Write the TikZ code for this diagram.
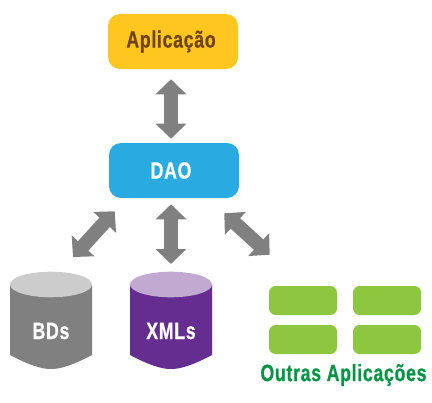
\documentclass[tikz,border=0pt]{standalone}
\usepackage{fontspec}
\setmainfont{Liberation Sans}[BoldFont=Liberation Sans Bold]
\newfontfamily\narrowfont{Liberation Sans Bold}[FakeStretch=.75,LetterSpace=3,FakeBold=.6]
\usepackage{tikz}
\usetikzlibrary{arrows.meta,calc,positioning}
\definecolor{appyellow}{RGB}{255,198,32}
\definecolor{appbrown}{RGB}{112,68,22}
\definecolor{daoblue}{RGB}{41,171,226}
\definecolor{flowgray}{RGB}{128,128,128}
\definecolor{bdstop}{RGB}{204,204,204}
\definecolor{xmlpurple}{RGB}{102,45,145}
\definecolor{xmltop}{RGB}{194,169,210}
\definecolor{otherlime}{RGB}{141,198,63}
\definecolor{othergreen}{RGB}{0,148,68}
\tikzset{
 layerbox/.style={rounded corners=9pt,minimum width=97.5pt,minimum height=41.25pt,inner sep=0pt},
 otherbox/.style={fill=otherlime,rounded corners=5pt,minimum width=51pt,minimum height=21.75pt,inner sep=0pt},
 storebox/.style={minimum width=61.5pt,minimum height=73.5pt,inner sep=0pt,outer sep=0pt},
 boxtext/.style={font=\narrowfont\fontsize{17.7}{20}\selectfont},
 flow/.style={draw=flowgray,line width=10.5pt,{Triangle[length=11.25pt,width=22.5pt]}-{Triangle[length=11.25pt,width=22.5pt]}}
}
\begin{document}
\begin{tikzpicture}[x=.75pt,y=-.75pt]
 \useasboundingbox (0,0) rectangle (432,403);
 \node[layerbox,fill=appyellow] (app) at (173,41.5) {};
 \node[layerbox,fill=daoblue] (dao) at (174,170.5) {};
 \node[boxtext,text=appbrown] (apptext) at (171,41.5) {Aplicação};
 \node[boxtext,text=white] (daotext) at (171,170.5) {DAO};
 % cilindros
 \foreach \storename/\storex/\bodycol/\topcol/\storelabel in
  {bds/51/flowgray/bdstop/BDs,xmls/171/xmlpurple/xmltop/XMLs}{
  \node[storebox] (\storename) at (\storex,320) {};
  \fill[\bodycol] (\storex-41,284.5) -- (\storex-41,355)
   .. controls (\storex-22,365) and (\storex-10,369) .. (\storex,369)
   .. controls (\storex+10,369) and (\storex+22,365) .. (\storex+41,355)
   -- (\storex+41,284.5) -- cycle;
  \fill[\topcol] (\storex,284.5) ellipse [x radius=41,y radius=12.8];
  \node[boxtext,text=white] (\storename text) at (\storex,331) {\storelabel};
 }
 \node[otherbox] (other1) at (303,300.5) {};
 \node[otherbox] (other2) at (387,300.5) {};
 \node[otherbox] (other3) at (303,339.5) {};
 \node[otherbox] (other4) at (387,339.5) {};
 \node[boxtext,text=othergreen] (othertext) at (343.5,375) {Outras Aplicações};
 % setas
 \draw[flow] ([shift={(-2,10)}]app.south) -- ([shift={(-3,-4)}]dao.north);
 \draw[flow] ([shift={(6,13)}]dao.south west) -- ([shift={(22,-14)}]bds.north);
 \draw[flow] ([shift={(-3,6)}]dao.south) -- ([shift={(0,-7)}]xmls.north);
 \draw[flow] ([shift={(-15,15)}]dao.south east) -- ([shift={(-83,-31)}]other2.north west);
\end{tikzpicture}
\end{document}
